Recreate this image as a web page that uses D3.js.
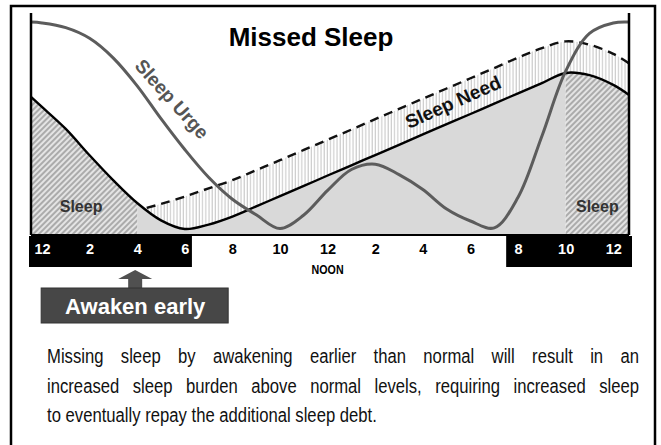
<!DOCTYPE html>
<html>
<head>
<meta charset="utf-8">
<script src="https://cdn.jsdelivr.net/npm/d3@7"></script>
<style>
  body { margin: 0; background: #fff; }
  svg { display: block; }
</style>
</head>
<body>
<div id="viz-container"></div>
<script>
// hours from midnight, levels 0..100 (bottom of plot to top)
const hours = [-0.46, 0, 1, 2, 3, 4, 5, 6, 7, 8, 9, 10, 11, 12, 13, 14, 15, 16, 17, 18, 19, 20, 21, 22, 23, 24, 24.66];
const needLevel = [62.2, 57.7, 47.8, 35.9, 24.6, 14.4, 6.6, 2.7, 4.7, 8.3, 12.9, 17.5, 22.1, 26.8, 31.4, 36.0, 40.6, 45.3, 49.9, 54.5, 59.2, 63.8, 68.4, 73.0, 72.0, 67.6, 63.1];
const urgeLevel = [95.9, 95.5, 93.4, 88.6, 79.7, 67.2, 52.4, 38.5, 26.0, 16.1, 9.1, 2.9, 9.0, 20.1, 29.5, 31.9, 27.2, 20.5, 11.7, 6.3, 3.2, 17.0, 44.5, 73.8, 90.8, 95.5, 95.9];

// sleep need after awakening early (dashed)
const missedHours = [4.4, 5, 6, 7, 8, 9, 10, 11, 12, 13, 14, 15, 16, 17, 18, 19, 20, 21, 22, 23, 24, 24.66];
const missedLevel = [12.2, 14.0, 17.3, 21.0, 24.7, 29.2, 33.7, 38.3, 42.9, 47.5, 52.2, 56.8, 61.4, 66.0, 70.6, 75.2, 79.9, 84.2, 87.2, 85.7, 81.6, 77.3];

const tickHours = [0, 2, 4, 6, 8, 10, 12, 14, 16, 18, 20, 22, 24];
const tickLabels = ["12", "2", "4", "6", "8", "10", "12", "2", "4", "6", "8", "10", "12"];
const daylight = [6.3, 19.5];
const sleepSpans = [[-0.46, 4], [22, 24.66]];
const awakenHour = 4;

const paragraph = [
  "Missing sleep by awakening earlier than normal will result in an",
  "increased sleep burden above normal levels, requiring increased sleep",
  "to eventually repay the additional sleep debt."
];

const font = "'Liberation Sans', Arial, sans-serif";

let viz = d3.select("#viz-container")
  .append("svg")
    .attr("width", 661)
    .attr("height", 445);

// outer frame
viz.append("rect")
  .attr("x", 11).attr("y", 6)
  .attr("width", 644).attr("height", 460)
  .attr("fill", "#fff")
  .attr("stroke", "#000")
  .attr("stroke-width", 2.5);

let x = d3.scaleLinear().domain([-0.46, 24.66]).range([31, 629]);
let y = d3.scaleLinear().domain([0, 100]).range([235, 13]);

let defs = viz.append("defs");

// diagonal hatch for sleep periods
let diag = defs.append("pattern")
  .attr("id", "diag")
  .attr("patternUnits", "userSpaceOnUse")
  .attr("width", 4).attr("height", 4)
  .attr("patternTransform", "rotate(45)");
diag.append("rect").attr("width", 4).attr("height", 4).attr("fill", "#e4e4e4");
diag.append("line")
  .attr("x1", 1).attr("x2", 1).attr("y1", 0).attr("y2", 4)
  .attr("stroke", "#858585").attr("stroke-width", 1.2);

// vertical hatch for the extra sleep debt
let vert = defs.append("pattern")
  .attr("id", "vert")
  .attr("patternUnits", "userSpaceOnUse")
  .attr("width", 3.2).attr("height", 10);
vert.append("rect").attr("width", 3.2).attr("height", 10).attr("fill", "#fff");
vert.append("line")
  .attr("x1", 1).attr("x2", 1).attr("y1", 0).attr("y2", 10)
  .attr("stroke", "#c4c4c4").attr("stroke-width", 1);

// clip paths by time span
defs.append("clipPath").attr("id", "clip-awake")
  .append("rect")
    .attr("x", x(awakenHour)).attr("y", y(100))
    .attr("width", x(sleepSpans[1][0]) - x(awakenHour))
    .attr("height", y(0) - y(100));

let sleepClip = defs.append("clipPath").attr("id", "clip-sleep");
sleepSpans.forEach(s => {
  sleepClip.append("rect")
    .attr("x", x(s[0])).attr("y", y(100))
    .attr("width", x(s[1]) - x(s[0]))
    .attr("height", y(0) - y(100));
});

let need = hours.map((h, i) => ({ h: h, v: needLevel[i] }));
let urge = hours.map((h, i) => ({ h: h, v: urgeLevel[i] }));
let missed = missedHours.map((h, i) => ({ h: h, v: missedLevel[i] }));

let curve = d3.curveCatmullRom;
let area = d3.area().x(d => x(d.h)).y0(y(0)).y1(d => y(d.v)).curve(curve);
let line = d3.line().x(d => x(d.h)).y(d => y(d.v)).curve(curve);

// extra sleep burden (under dashed), gray awake area, hatched sleep
viz.append("path").datum(missed).attr("d", area).attr("fill", "url(#vert)");
viz.append("path").datum(need).attr("d", area).attr("fill", "#d9d9d9")
  .attr("clip-path", "url(#clip-awake)");
viz.append("path").datum(need).attr("d", area).attr("fill", "url(#diag)")
  .attr("clip-path", "url(#clip-sleep)");

// curves
viz.append("path").datum(missed).attr("d", line)
  .attr("fill", "none").attr("stroke", "#111").attr("stroke-width", 2.4)
  .attr("stroke-dasharray", "9,6");
viz.append("path").datum(need).attr("d", line)
  .attr("fill", "none").attr("stroke", "#000").attr("stroke-width", 2.4);
viz.append("path").datum(urge).attr("d", line)
  .attr("fill", "none").attr("stroke", "#5c5c5c").attr("stroke-width", 3);

// plot frame
viz.append("line")
  .attr("x1", x.range()[0]).attr("x2", x.range()[0])
  .attr("y1", y(100)).attr("y2", y(0))
  .attr("stroke", "#000").attr("stroke-width", 2.5);
viz.append("line")
  .attr("x1", x.range()[1]).attr("x2", x.range()[1])
  .attr("y1", y(100)).attr("y2", y(0))
  .attr("stroke", "#000").attr("stroke-width", 2.5);
viz.append("line")
  .attr("x1", x.range()[0]).attr("x2", x.range()[1])
  .attr("y1", y(0)).attr("y2", y(0))
  .attr("stroke", "#000").attr("stroke-width", 2);

// labels inside the plot
viz.append("text")
  .attr("x", 311).attr("y", 46)
  .attr("text-anchor", "middle")
  .attr("font-family", font).attr("font-weight", "bold").attr("font-size", 26)
  .text("Missed Sleep");

viz.append("text")
  .attr("transform", "translate(172,99) rotate(48)")
  .attr("text-anchor", "middle").attr("dy", "0.35em")
  .attr("font-family", font).attr("font-weight", "bold").attr("font-size", 19)
  .attr("fill", "#555")
  .text("Sleep Urge");

viz.append("text")
  .attr("transform", "translate(453,102) rotate(-24)")
  .attr("text-anchor", "middle").attr("dy", "0.35em")
  .attr("font-family", font).attr("font-weight", "bold").attr("font-size", 19)
  .attr("fill", "#111")
  .text("Sleep Need");

sleepSpans.forEach(s => {
  viz.append("text")
    .attr("x", (x(s[0]) + x(s[1])) / 2 + (s[0] < 0 ? -3 : 0)).attr("y", 212)
    .attr("text-anchor", "middle")
    .attr("font-family", font).attr("font-weight", "bold").attr("font-size", 16)
    .attr("fill", "#333")
    .text("Sleep");
});

// time bar: black for night, white for day
let barTop = y(0) + 1;
viz.append("rect")
  .attr("x", x.range()[0] - 2).attr("y", barTop)
  .attr("width", x.range()[1] - x.range()[0] + 5).attr("height", 31)
  .attr("fill", "#000");
viz.append("rect")
  .attr("x", x(daylight[0])).attr("y", barTop)
  .attr("width", x(daylight[1]) - x(daylight[0])).attr("height", 31)
  .attr("fill", "#fff");

let xAxis = d3.axisBottom(x)
  .tickValues(tickHours)
  .tickFormat((d, i) => tickLabels[i])
  .tickSize(0)
  .tickPadding(0);

let axisG = viz.append("g")
  .attr("transform", "translate(0," + (barTop + 8) + ")")
  .call(xAxis);
axisG.select(".domain").remove();
axisG.selectAll("text")
  .attr("font-family", font).attr("font-weight", "bold").attr("font-size", 14.5)
  .attr("fill", d => (d > daylight[0] && d < daylight[1]) ? "#000" : "#fff");

viz.append("text")
  .attr("x", x(12)).attr("y", 274)
  .attr("text-anchor", "middle")
  .attr("font-family", font).attr("font-weight", "bold").attr("font-size", 13)
  .attr("textLength", 32).attr("lengthAdjust", "spacingAndGlyphs")
  .text("NOON");

// awaken early arrow and box
let ax = x(awakenHour) - 2;
viz.append("path")
  .attr("d", d3.line()([
    [ax, 270], [ax + 17, 279], [ax + 7, 279], [ax + 7, 289],
    [ax - 7, 289], [ax - 7, 279], [ax - 17, 279]
  ]) + "Z")
  .attr("fill", "#505050");

viz.append("rect")
  .attr("x", ax - 94).attr("y", 288)
  .attr("width", 187).attr("height", 35)
  .attr("fill", "#474747")
  .attr("stroke", "#333").attr("stroke-width", 1);
viz.append("text")
  .attr("x", ax).attr("y", 314)
  .attr("text-anchor", "middle")
  .attr("font-family", font).attr("font-weight", "bold").attr("font-size", 22)
  .attr("fill", "#fff")
  .text("Awaken early");

// caption: condensed, justified lines
let lineWidth = 592;
let lastLineWidth = 330;
let captionSize = 21;
let lines = paragraph.map((t, i) => viz.append("text")
  .attr("font-family", font).attr("font-size", captionSize)
  .attr("fill", "#111")
  .text(t));
// squeeze factor taken from the last line, first two lines justified
let sx = lastLineWidth / lines[2].node().getComputedTextLength();
lines.forEach((txt, i) => {
  txt.attr("transform", "translate(47," + (363 + i * 29.5) + ") scale(" + sx + ",1)");
  if (i < 2) {
    let natural = txt.node().getComputedTextLength();
    let gaps = paragraph[i].split(" ").length - 1;
    let extra = (lineWidth / sx - natural) / gaps;
    txt.attr("word-spacing", Math.max(0, extra));
  }
});
</script>
</body>
</html>
